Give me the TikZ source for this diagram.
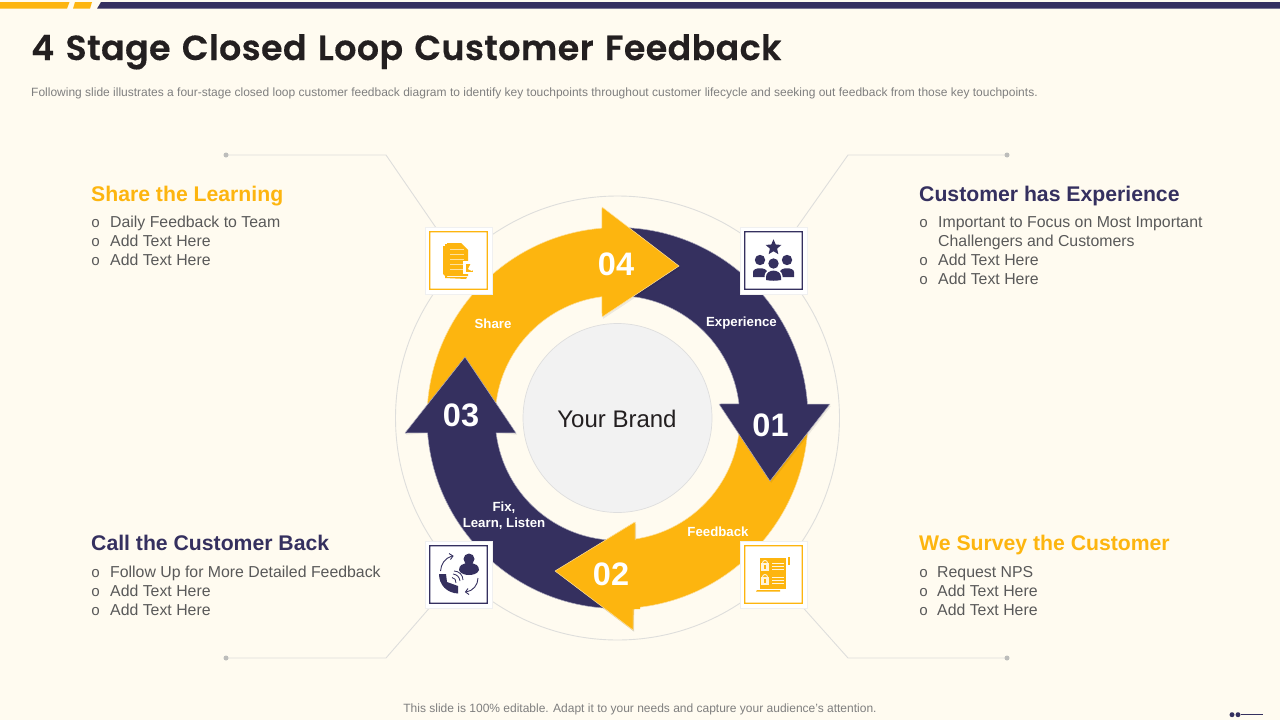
\documentclass[tikz,border=0pt]{standalone}
\usepackage{fontspec}
\setmainfont{Liberation Sans}
\newfontfamily\titlefont[WordSpace=1.3,LetterSpace=1.2,FakeBold=0.35]{Poppins SemiBold}
\newfontfamily\bulfont{Liberation Mono}
\usetikzlibrary{shapes.geometric,backgrounds,calc}
\definecolor{bgc}{HTML}{FFFBF0}
\definecolor{gold}{HTML}{FDB50F}
\definecolor{navy}{HTML}{35305F}
\definecolor{ink}{HTML}{231F20}
\definecolor{bodytxt}{HTML}{595959}
\definecolor{subtxt}{HTML}{7F7F7F}
\definecolor{leader}{HTML}{DEDEDC}
\newcommand{\fs}[1]{\fontsize{#1}{#1}\selectfont}
\newcommand{\shadowed}[2]{%
  \fill[black,opacity=.07,shift={(1.2,1.8)}] #2;
  \fill[#1] #2;
  \draw[white!60!#1,line width=.5pt,line join=round] #2;}
\newcommand{\frameat}[2]{\fill[#1,even odd rule] ($(#2)+(-29.4,-29.4)$) rectangle ($(#2)+(29.4,29.4)$) ($(#2)+(-28.2,-28.2)$) rectangle ($(#2)+(28.2,28.2)$);}
\tikzset{
  x=1pt,y=-1pt,
  heading/.style={anchor=base west,inner sep=0,font=\bfseries\fs{21.2}},
  txt/.style={anchor=base west,inner sep=0,font=\fs{15.85},text=bodytxt},
  bul/.style={anchor=base west,inner sep=0,font=\bulfont\fs{15},text=bodytxt},
  num/.style={inner sep=0,font=\bfseries\fs{32.5},text=white},
  lab/.style={inner sep=0,font=\bfseries\fs{13.25},text=white,align=center},
  tile/.style={draw=black!6,fill=white,minimum size=67pt,inner sep=0,line width=.4pt},
  lead/.style={draw=leader,line width=.9pt},
  leaddot/.style={circle,fill=leader!85!black,inner sep=0,minimum size=5pt}
}
\begin{document}
\begin{tikzpicture}
\useasboundingbox (0,0) rectangle (1280,720);
\begin{scope}[on background layer]
\fill[bgc] (0,0) rectangle (1280,720);
\end{scope}
% top bars
\fill[gold] (0,2) -- (69.5,2) -- (67,8.7) -- (0,8.7) -- cycle;
\fill[gold] (75,2) -- (92,2) -- (90,8.7) -- (73,8.7) -- cycle;
\fill[navy] (101,2) -- (1280,2) -- (1280,8.7) -- (97,8.7) -- cycle;
% title
\node[anchor=base west,inner sep=0,text=ink] (title) at (31,60) {\titlefont\fs{34.8}4 Stage Closed Loop Customer Feedback};
\node[anchor=base west,inner sep=0,text=subtxt] (sub) at (31,96) {\fs{12}Following slide illustrates a four-stage closed loop customer feedback diagram to identify key touchpoints throughout customer lifecycle and seeking out feedback from those key touchpoints.};
\node[anchor=base,inner sep=0,text=subtxt] (foot) at (640,712.5) {\fs{12}This slide is 100\% editable. Adapt it to your needs and capture your audience's attention.};
% ring
\coordinate (c) at (617.5,418);
\draw[leader,line width=.9pt] (c) circle[radius=222];
\node[circle,fill=black!5,draw=black!13,line width=.7pt,minimum size=189pt,inner sep=0] (brand) at (c) {};
\node[inner sep=0,text=ink] (brandt) at (617,419) {\fs{24}Your Brand};
% arrows
\def\R{190.5}\def\r{122.3}
\def\ptwo{(c) ++(0:\R) arc[start angle=0,end angle=85,radius=\R] -- (633,630) -- (555,571) -- (635,522) -- (635,540) -- ($(c)+(82:\r)$) arc[start angle=82,end angle=0,radius=\r] -- cycle}
\def\pone{(c) ++(270:\R) arc[start angle=270,end angle=355.8,radius=\R] -- (830,404) -- (770,481) -- (719,404) -- ($(c)+(353.4:\r)$) arc[start angle=353.4,end angle=270,radius=\r] -- cycle}
\def\pfour{(c) ++(180:\R) arc[start angle=180,end angle=265.3,radius=\R] -- (602,207) -- (679,266) -- (602,317) -- ($(c)+(262.7:\r)$) arc[start angle=262.7,end angle=180,radius=\r] -- cycle}
\def\pthree{(c) ++(90:\R) arc[start angle=90,end angle=175.5,radius=\R] -- (405,433) -- (465,357) -- (516,433) -- ($(c)+(173:\r)$) arc[start angle=173,end angle=90,radius=\r] -- cycle}
\shadowed{gold}{\ptwo}
\shadowed{navy}{\pone}
\shadowed{gold}{\pfour}
\shadowed{navy}{\pthree}
% head of 02 over the tail of 03
\fill[black,opacity=.07,shift={(1.2,1.8)}] (633,609) -- (633,630) -- (555,571) -- (635,522) -- (635,540) -- cycle;
\fill[gold] (640,609) -- (633,609) -- (633,630) -- (555,571) -- (635,522) -- (635,540) -- (640,540) -- cycle;
\draw[white!60!gold,line width=.5pt,line join=round] (633,609) -- (633,630) -- (555,571) -- (635,522) -- (635,540);
% arrow texts
\node[num] (n1) at (770.5,425.5) {01};
\node[num] (n2) at (611,574.5) {02};
\node[num] (n3) at (461,415.5) {03};
\node[num] (n4) at (616,264.5) {04};
\node[lab] (l4) at (493,323.5) {Share};
\node[lab] (l1) at (741.5,323.5) {Experience};
\node[lab] (l2) at (718,531.5) {Feedback};
\node[lab] (l3) at (504,515.7) {Fix,\\[2.5pt]Learn, Listen};
% tiles
\node[tile] (ta) at (458.5,260.5) {};
\node[tile] (tb) at (773.5,260.5) {};
\node[tile] (tc) at (458.5,574.5) {};
\node[tile] (td) at (773.5,574.5) {};
\frameat{gold}{ta}
\frameat{navy}{tb}
\frameat{navy}{tc}
\frameat{gold}{td}
% leaders
\coordinate (la) at (226,155); \coordinate (lb) at (1007,155);
\coordinate (lc) at (226,658); \coordinate (ld) at (1007,658);
\begin{scope}[on background layer]
\draw[lead] (la) -- (386,155) -- (ta.center);
\draw[lead] (lb) -- (848,155) -- (tb.center);
\draw[lead] (lc) -- (386,658) -- (tc.center);
\draw[lead] (ld) -- (848,658) -- (td.center);
\end{scope}
\node[leaddot] (da) at (la) {};
\node[leaddot] (db) at (lb) {};
\node[leaddot] (dc) at (lc) {};
\node[leaddot] (dd) at (ld) {};
% icon: documents
\fill[gold] (443,246) -- (446,246) -- (446,277) -- (443,274) -- cycle;
\fill[gold] (445,244) -- (447,244) -- (447,277) -- (467,277) -- (466,279) -- (445,278) -- cycle;
\fill[gold] (447,243) -- (461,243) -- (468,250) -- (468,276) -- (447,276) -- cycle;
\foreach \yy in {249,254,259,264,269} \draw[white!60!gold,line width=.8pt] (450,\yy) -- (464,\yy);
\fill[white] (463,261) rectangle (476,274);
\fill[gold] (466,264) rectangle (473,272);
\fill[white] (468,269) -- (471,263) -- (476,266) -- (472,271) -- cycle;
% icon: people
\node[star,star points=5,star point ratio=2.2,fill=navy,inner sep=0,minimum size=16.5pt] (pstar) at (773.5,247.5) {};
\foreach \xx/\yy in {760/260,787/260}{
  \fill[navy] (\xx,\yy) circle[radius=5.2];
  \fill[navy] (\xx-7,\yy+17) -- (\xx-7,\yy+12) .. controls (\xx-7,\yy+7) and (\xx+7,\yy+7) .. (\xx+7,\yy+12) -- (\xx+7,\yy+17) -- cycle;
}
\fill[white] (773.5,263.5) circle[radius=6.5];
\fill[navy] (773.5,263.5) circle[radius=5.2];
\fill[white] (764.5,281) -- (764.5,276) .. controls (765,267) and (782,267) .. (782.5,276) -- (782.5,281) -- cycle;
\fill[navy] (766,280) -- (766,277) .. controls (766,268.5) and (781,268.5) .. (781,277) -- (781,280) .. controls (776,281) and (771,281) .. (766,280) -- cycle;
% icon: call
\fill[navy] (469,559) circle[radius=5.5];
\fill[navy] (459,570) .. controls (459,565) and (463,564) .. (466,563) -- (472,563) .. controls (475,564) and (479,565) .. (479,570) .. controls (478,574) and (472,575) .. (469,575) .. controls (466,575) and (460,574) .. (459,570) -- cycle;
\fill[navy] (439,574) -- (446,574) -- (447,582) -- (458,586) -- (458,593.5) .. controls (447,593) and (439,585) .. (439,574) -- cycle;
\draw[navy,line width=.8pt] (452,577.5) .. controls (455,578) and (456,580) .. (456,583);
\draw[navy,line width=.8pt] (453,574) .. controls (457,574.5) and (459.5,577) .. (460,581);
\draw[navy,line width=.8pt] (454,571) .. controls (459,571) and (463,575) .. (463,580);
\draw[navy,line width=.9pt] (440.5,571) .. controls (441,564) and (445,558) .. (452,556);
\draw[navy,line width=.9pt] (449,553.5) -- (453,556) -- (450.5,559.5);
\draw[navy,line width=.9pt] (478,578) .. controls (478,585) and (473,591) .. (466,592);
\draw[navy,line width=.9pt] (469,594.5) -- (465.5,592) -- (468,588.5);
% icon: scroll
\begin{scope}[shift={(315,0)}]
\fill[gold] (445,558) rectangle (471,589);
\fill[gold] (442,590) -- (465,590) -- (465,591.5) -- (441,591.5) -- cycle;
\fill[gold] (472.5,557) rectangle (474.5,565);
\foreach \yy in {565,579}{
  \draw[white!85!gold,line width=.9pt] (447.5,\yy-2) arc[start angle=180,end angle=360,radius=2.5];
  \fill[white!85!gold] (446,\yy-2) rectangle (454,\yy+6);
  \foreach \dd in {-2,1,4} \draw[white!85!gold,line width=.8pt] (457,\yy+\dd) -- (469,\yy+\dd);
  \fill[gold] (449,\yy) rectangle (451,\yy+3.5);
}
\end{scope}
% left top
\node[heading,text=gold] (h1) at (91,201) {Share the Learning};
\node[bul] (b1a) at (91,227) {o}; \node[txt] (t1a) at (110,227) {Daily Feedback to Team};
\node[bul] (b1b) at (91,246) {o}; \node[txt] (t1b) at (110,246) {Add Text Here};
\node[bul] (b1c) at (91,265) {o}; \node[txt] (t1c) at (110,265) {Add Text Here};
% right top
\node[heading,text=navy] (h2) at (919,201) {Customer has Experience};
\node[bul] (b2a) at (919,227) {o}; \node[txt] (t2a) at (938,227) {Important to Focus on Most Important};
\node[txt] (t2a2) at (938,246) {Challengers and Customers};
\node[bul] (b2b) at (919,265) {o}; \node[txt] (t2b) at (938,265) {Add Text Here};
\node[bul] (b2c) at (919,284) {o}; \node[txt] (t2c) at (938,284) {Add Text Here};
% left bottom
\node[heading,text=navy] (h3) at (91,550) {Call the Customer Back};
\node[bul] (b3a) at (91,577) {o}; \node[txt] (t3a) at (110,577) {Follow Up for More Detailed Feedback};
\node[bul] (b3b) at (91,596) {o}; \node[txt] (t3b) at (110,596) {Add Text Here};
\node[bul] (b3c) at (91,615) {o}; \node[txt] (t3c) at (110,615) {Add Text Here};
% right bottom
\node[heading,text=gold] (h4) at (919,550) {We Survey the Customer};
\node[bul] (b4a) at (919,577) {o}; \node[txt] (t4a) at (937,577) {Request NPS};
\node[bul] (b4b) at (919,596) {o}; \node[txt] (t4b) at (937,596) {Add Text Here};
\node[bul] (b4c) at (919,615) {o}; \node[txt] (t4c) at (937,615) {Add Text Here};
% page mark
\node[circle,fill=navy,inner sep=0,minimum size=5pt] (m1) at (1232,714.7) {};
\node[circle,fill=navy,inner sep=0,minimum size=5pt] (m2) at (1238,714.7) {};
\coordinate (m3) at (1263,714.7);
\draw[navy,line width=.8pt] (m2) -- (m3);
\end{tikzpicture}
\end{document}
